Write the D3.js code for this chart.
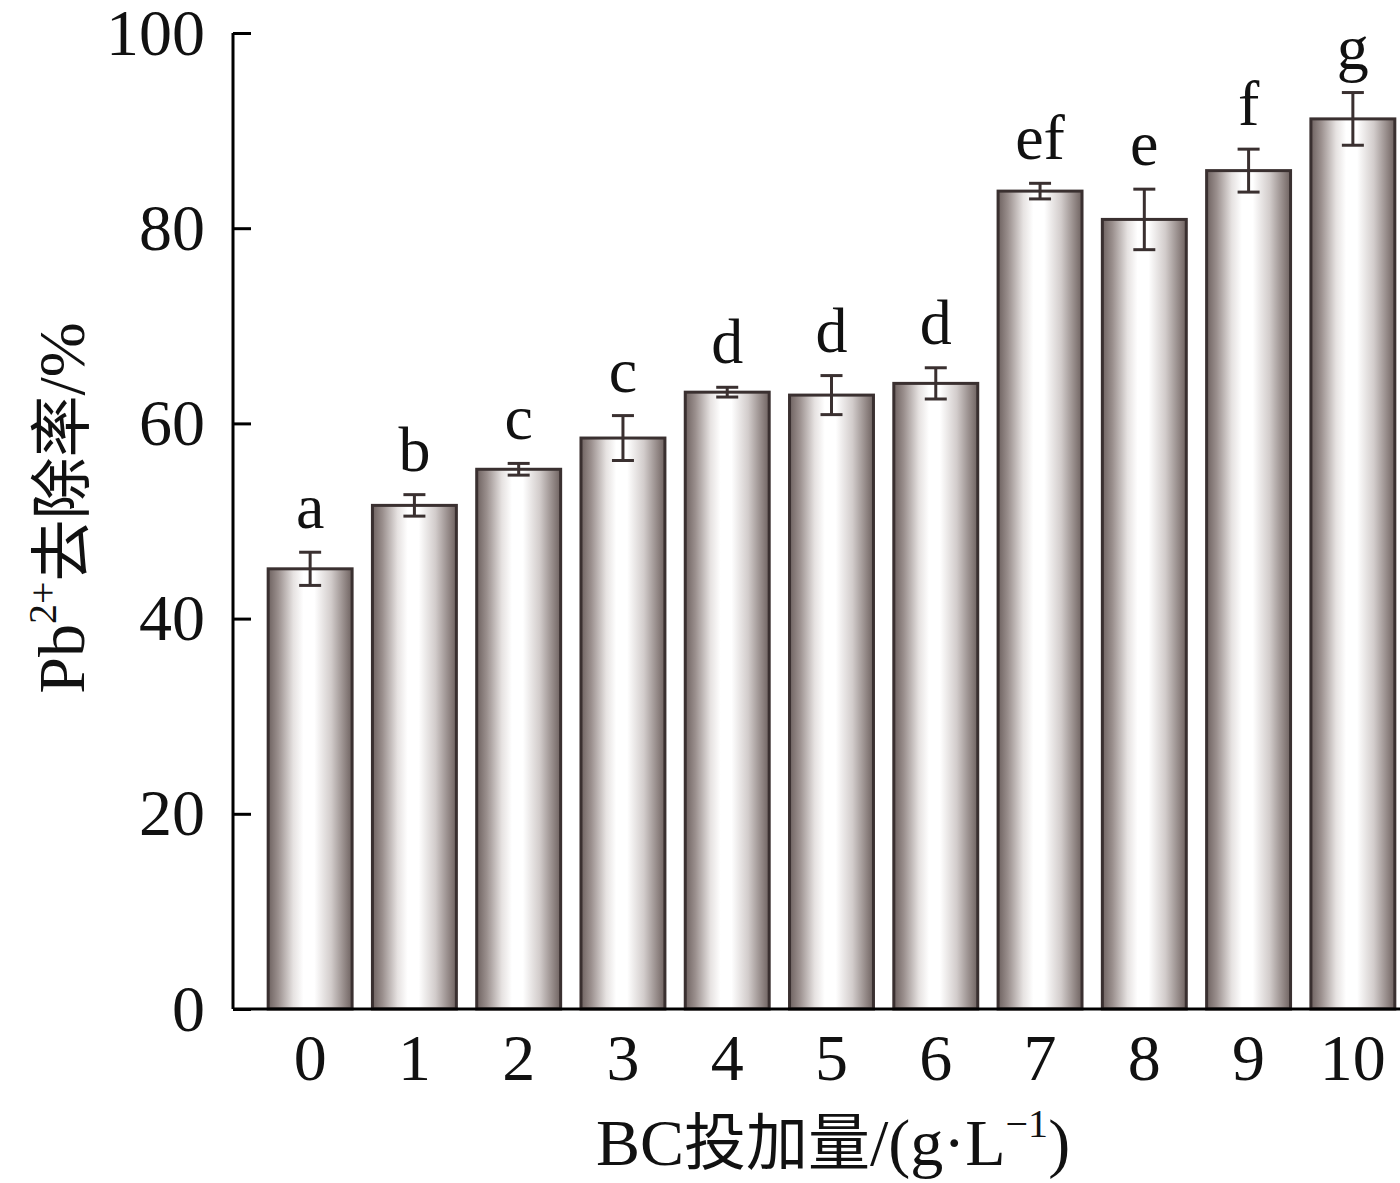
<!DOCTYPE html>
<html><head><meta charset="utf-8">
<script src="https://cdn.jsdelivr.net/npm/d3@7"></script>
<style>body{margin:0;background:#fff}</style>
</head><body>
<svg id="c" width="1400" height="1183"></svg>
<script>
const categories = ["0","1","2","3","4","5","6","7","8","9","10"];
const values = [45.1, 51.6, 55.3, 58.5, 63.2, 62.9, 64.1, 83.8, 80.9, 85.9, 91.2];
const errors = [1.7, 1.1, 0.6, 2.3, 0.5, 2.0, 1.6, 0.8, 3.1, 2.2, 2.7];
const letters = ["a","b","c","c","d","d","d","ef","e","f","g"];
const yTicks = [0, 20, 40, 60, 80, 100];

const svg = d3.select("#c");
const serif = "'Liberation Serif','Times New Roman',serif";
const cjk = "'Noto Sans CJK SC',sans-serif";
const dark = "#3a3030";

const y = d3.scaleLinear().domain([0, 100]).range([1009, 33]);
const x = d3.scaleBand().domain(categories).range([258, 1405]).paddingInner(0.195).paddingOuter(0.0975);

const defs = svg.append("defs");
const g = defs.append("linearGradient").attr("id","barg").attr("x1","0").attr("x2","1").attr("y1","0").attr("y2","0");
[[0,"#6e6260"],[0.12,"#9a8f8d"],[0.3,"#e6e2e1"],[0.42,"#ffffff"],[0.55,"#ffffff"],[0.75,"#d2cccb"],[0.92,"#8f8482"],[1,"#6e6260"]]
  .forEach(([o,c]) => g.append("stop").attr("offset",o).attr("stop-color",c));

// bars
svg.selectAll("rect.bar").data(values).enter().append("rect")
  .attr("x",(d,i)=>x(categories[i]))
  .attr("y",d=>y(d))
  .attr("width",x.bandwidth())
  .attr("height",d=>y(0)-y(d))
  .attr("fill","url(#barg)")
  .attr("stroke",dark).attr("stroke-width",3);

// error bars
const cap = 11;
values.forEach((v,i)=>{
  const cx = x(categories[i]) + x.bandwidth()/2;
  const e = errors[i];
  const grp = svg.append("g").attr("stroke",dark).attr("stroke-width",3);
  grp.append("line").attr("x1",cx).attr("x2",cx).attr("y1",y(v+e)).attr("y2",y(v-e));
  grp.append("line").attr("x1",cx-cap).attr("x2",cx+cap).attr("y1",y(v+e)).attr("y2",y(v+e));
  grp.append("line").attr("x1",cx-cap).attr("x2",cx+cap).attr("y1",y(v-e)).attr("y2",y(v-e));
  svg.append("text").attr("x",cx).attr("y",y(v+e)-24)
    .attr("text-anchor","middle").attr("font-family",serif).attr("font-size",64).attr("fill","#111")
    .text(letters[i]);
});

// y axis
const yAxis = d3.axisLeft(y).tickValues(yTicks).tickSize(-18).tickPadding(28).tickFormat(d3.format("d"));
const ya = svg.append("g").attr("transform","translate(233,0)").call(yAxis);
ya.select(".domain").attr("stroke","#000").attr("stroke-width",3).attr("d","M0,33V1009");
ya.selectAll(".tick line").attr("stroke","#000").attr("stroke-width",3);
ya.selectAll(".tick text").attr("font-family",serif).attr("font-size",66).attr("fill","#111");

// x axis
const xAxis = d3.axisBottom(x).tickSize(0).tickPadding(24);
const xa = svg.append("g").attr("transform","translate(0,1009)").call(xAxis);
xa.select(".domain").attr("stroke","#000").attr("stroke-width",3).attr("d","M233,0H1400");
xa.selectAll(".tick text").attr("font-family",serif).attr("font-size",66).attr("fill","#111");

// axis titles
const xt = svg.append("text").attr("x",833).attr("y",1165).attr("text-anchor","middle")
  .attr("font-family",serif).attr("font-size",66).attr("fill","#111");
xt.append("tspan").text("BC");
xt.append("tspan").attr("font-family",cjk).attr("font-size",62).text("投加量");
xt.append("tspan").text("/(g·L");
xt.append("tspan").attr("font-size",40).attr("dy",-28).text("−1");
xt.append("tspan").attr("dy",28).text(")");

const yt = svg.append("text").attr("transform","translate(84,508) rotate(-90)").attr("text-anchor","middle")
  .attr("font-family",serif).attr("font-size",66).attr("fill","#111");
yt.append("tspan").text("Pb");
yt.append("tspan").attr("font-size",40).attr("dy",-28).text("2+");
yt.append("tspan").attr("dy",28).attr("font-family",cjk).attr("font-size",62).text("去除率");
yt.append("tspan").text("/%");
</script>
</body></html>
